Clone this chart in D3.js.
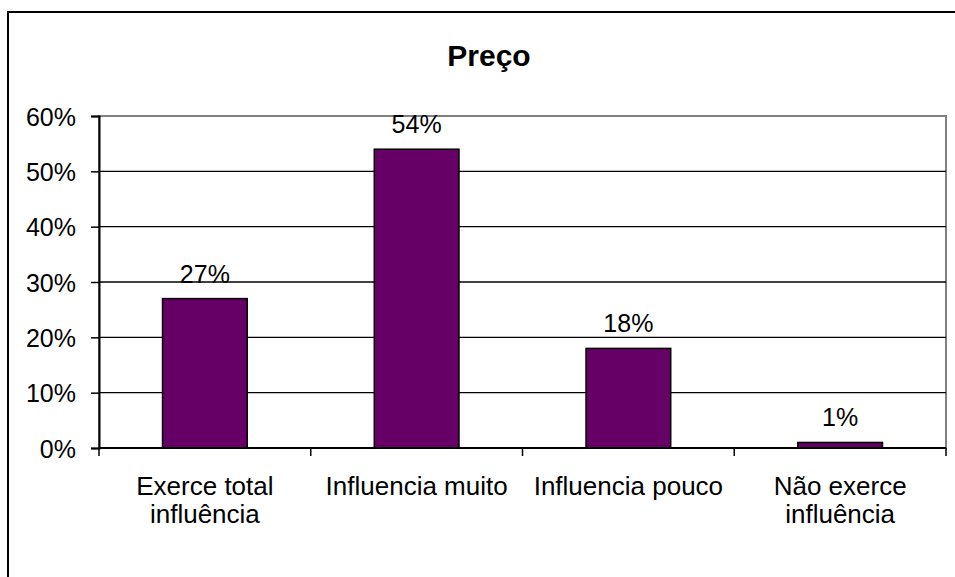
<!DOCTYPE html>
<html>
<head>
<meta charset="utf-8">
<script src="https://cdn.jsdelivr.net/npm/d3@7"></script>
<style>
  body { margin: 0; background: #fff; }
  text { font-family: Arial, "Liberation Sans", sans-serif; fill: #000; }
</style>
</head>
<body>
<div id="chart"></div>
<script>
// chart data
var categories = [["Exerce total", "influência"], ["Influencia muito"], ["Influencia pouco"], ["Não exerce", "influência"]];
var values = [0.27, 0.54, 0.18, 0.01];
var valueLabels = ["27%", "54%", "18%", "1%"];
var yTicks = [0, 0.1, 0.2, 0.3, 0.4, 0.5, 0.6];
var title = "Preço";

var W = 955, H = 577;
var margin = { top: 116, right: 9, bottom: 129, left: 99 };
var width = W - margin.left - margin.right;
var height = H - margin.top - margin.bottom;

var root = d3.select("#chart")
  .append("svg")
  .attr("width", W)
  .attr("height", H);

// outer frame (runs off the right and bottom edge)
root.append("rect")
  .attr("x", 8)
  .attr("y", 12)
  .attr("width", 1000)
  .attr("height", 1000)
  .attr("fill", "none")
  .attr("stroke", "#000")
  .attr("stroke-width", 2);

root.append("text")
  .attr("x", 489)
  .attr("y", 66)
  .attr("text-anchor", "middle")
  .style("font-size", "30px")
  .style("font-weight", "bold")
  .text(title);

var svg = root.append("g")
  .attr("transform", "translate(" + margin.left + "," + margin.top + ")");

var x = d3.scaleBand()
  .domain(d3.range(categories.length))
  .range([0, width])
  .paddingInner(0.6)
  .paddingOuter(0.3);

var xOuter = d3.scaleBand()
  .domain(d3.range(categories.length))
  .range([0, width]);

var y = d3.scaleLinear()
  .domain([0, 0.6])
  .range([height, 0]);

// plot area border (gray top / right)
svg.append("rect")
  .attr("x", 0)
  .attr("y", 0)
  .attr("width", width)
  .attr("height", height)
  .attr("fill", "none")
  .attr("stroke", "#808080")
  .attr("stroke-width", 2);

// gridlines
svg.selectAll(".grid")
  .data(yTicks.filter(d => d > 0 && d < 0.6))
  .enter()
  .append("line")
  .attr("x1", 0)
  .attr("x2", width)
  .attr("y1", d => y(d))
  .attr("y2", d => y(d))
  .attr("stroke", "#000")
  .attr("stroke-width", 1.3);

// y axis
var yAxis = d3.axisLeft(y)
  .tickValues(yTicks)
  .tickFormat(d3.format(".0%"))
  .tickSize(8)
  .tickPadding(15);

svg.append("g")
  .attr("class", "y axis")
  .call(yAxis)
  .call(g => {
    g.select(".domain").attr("stroke", "#000").attr("stroke-width", 2);
    g.selectAll(".tick line").attr("stroke", "#000").attr("stroke-width", 1.5);
    g.selectAll(".tick text").style("font-size", "25px").attr("dy", "0.36em");
  });

// bars
svg.selectAll(".bar")
  .data(values)
  .enter()
  .append("rect")
  .attr("class", "bar")
  .attr("x", (d, i) => x(i))
  .attr("y", d => y(d))
  .attr("width", x.bandwidth())
  .attr("height", d => height - y(d))
  .attr("fill", "#660066")
  .attr("stroke", "#000")
  .attr("stroke-width", 1.5);

// value labels
svg.selectAll(".val")
  .data(values)
  .enter()
  .append("text")
  .attr("x", (d, i) => x(i) + x.bandwidth() / 2)
  .attr("y", d => y(d) - 16)
  .attr("text-anchor", "middle")
  .style("font-size", "25px")
  .text((d, i) => valueLabels[i]);

// x axis
svg.append("line")
  .attr("x1", 0)
  .attr("x2", width)
  .attr("y1", height)
  .attr("y2", height)
  .attr("stroke", "#000")
  .attr("stroke-width", 2);

var bounds = d3.range(categories.length + 1).map(i => i < categories.length ? xOuter(i) : width);
svg.selectAll(".xtick")
  .data(bounds)
  .enter()
  .append("line")
  .attr("x1", d => d)
  .attr("x2", d => d)
  .attr("y1", height)
  .attr("y2", height + 8)
  .attr("stroke", "#000")
  .attr("stroke-width", 1.5);

var cat = svg.selectAll(".cat")
  .data(categories)
  .enter()
  .append("text")
  .attr("text-anchor", "middle")
  .attr("transform", (d, i) => "translate(" + (xOuter(i) + xOuter.bandwidth() / 2) + "," + (height + 47) + ")")
  .style("font-size", "26px");

cat.selectAll("tspan")
  .data(d => d)
  .enter()
  .append("tspan")
  .attr("x", 0)
  .attr("y", (d, j) => j * 28)
  .text(d => d);
</script>
</body>
</html>
